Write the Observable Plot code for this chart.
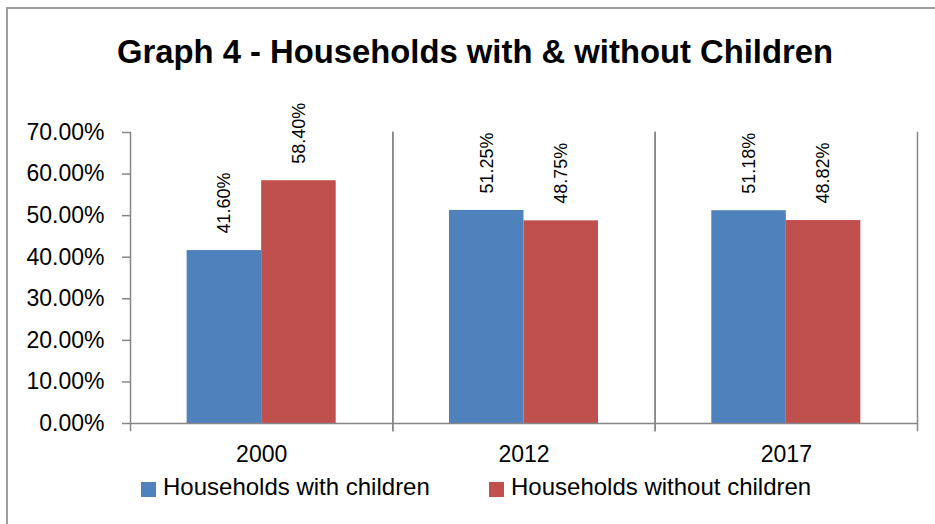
<!DOCTYPE html>
<html>
<head>
<meta charset="utf-8">
<script src="https://cdn.jsdelivr.net/npm/d3@7"></script>
<script src="https://cdn.jsdelivr.net/npm/@observablehq/plot@0.6"></script>
<style>
  html, body { margin: 0; padding: 0; background: #fff; }
  body { width: 935px; height: 524px; overflow: hidden; position: relative; font-family: "Liberation Sans", Arial, sans-serif; }
  #border { position: absolute; left: 6px; top: 7px; width: 940px; height: 540px; border-top: 2px solid #9d9d9d; border-left: 2px solid #9d9d9d; z-index: 5; pointer-events: none; }
  #title { position: absolute; left: 15px; width: 920px; top: 35px; line-height: 33px; font-size: 32.8px; font-weight: bold; text-align: center; color: #000; }
  #chart { position: absolute; left: 0; top: 90px; }
  #chart svg { overflow: visible; background: transparent; }
  .leg { position: absolute; top: 475px; line-height: 24px; font-size: 24px; color: #000; white-space: nowrap; }
  .sw { position: absolute; top: 482px; width: 15px; height: 15px; }
</style>
</head>
<body>
<div id="border"></div>
<div id="title">Graph 4 - Households with &amp; without Children</div>
<div id="chart"></div>
<div id="legend"></div>
<script>
const years = ["2000", "2012", "2017"];
const seriesNames = ["Households with children", "Households without children"];
const withChildren = [0.4160, 0.5125, 0.5118];
const withoutChildren = [0.5840, 0.4875, 0.4882];
const seriesColors = ["#4F81BD", "#C0504D"];
const yTicks = [0, 0.1, 0.2, 0.3, 0.4, 0.5, 0.6, 0.7];

const data = years.flatMap((yr, i) => [
  {year: yr, series: seriesNames[0], value: withChildren[i]},
  {year: yr, series: seriesNames[1], value: withoutChildren[i]}
]);
const pct = v => (v * 100).toFixed(2) + "%";
const grid = "#868686";

const chart = Plot.plot({
  width: 935,
  height: 380,
  marginLeft: 130,
  marginRight: 18,
  marginTop: 42,
  marginBottom: 47,
  style: {fontFamily: "'Liberation Sans', Arial, sans-serif", background: "transparent", color: "black"},
  fx: {domain: years, padding: 0, round: false, label: null},
  x: {domain: seriesNames, paddingInner: 0, paddingOuter: 0.76, round: false, axis: null},
  y: {domain: [0, 0.7], axis: null},
  color: {domain: seriesNames, range: seriesColors},
  marks: [
    Plot.frame({anchor: "left", stroke: grid, strokeWidth: 1.5, insetBottom: -7}),
    Plot.frame({anchor: "right", stroke: grid, strokeWidth: 1.5, insetBottom: -7}),
    Plot.barY(data, {fx: "year", x: "series", y: "value", fill: "series"}),
    Plot.ruleY([0], {stroke: grid, strokeWidth: 1.5}),
    Plot.axisY({ticks: yTicks, tickFormat: pct, tickSize: 8, tickPadding: 18, stroke: grid, strokeWidth: 1.5, fill: "black", fontSize: 23, label: null}),
    Plot.text(data, {fx: "year", x: "series", y: "value", text: d => pct(d.value), rotate: -90, textAnchor: "start", dy: -17, fontSize: 18, fill: "black"}),
    Plot.axisFx({anchor: "bottom", tickSize: 0, tickPadding: 22, fontSize: 23, fill: "black", label: null})
  ]
});
document.getElementById("chart").appendChild(chart);

// legend
const legend = document.getElementById("legend");
const legPos = [141, 489];
seriesNames.forEach((name, i) => {
  const sw = document.createElement("div");
  sw.className = "sw";
  sw.style.left = legPos[i] + "px";
  sw.style.background = seriesColors[i];
  legend.appendChild(sw);
  const t = document.createElement("div");
  t.className = "leg";
  t.style.left = (legPos[i] + 22) + "px";
  t.textContent = name;
  legend.appendChild(t);
});
</script>
</body>
</html>
